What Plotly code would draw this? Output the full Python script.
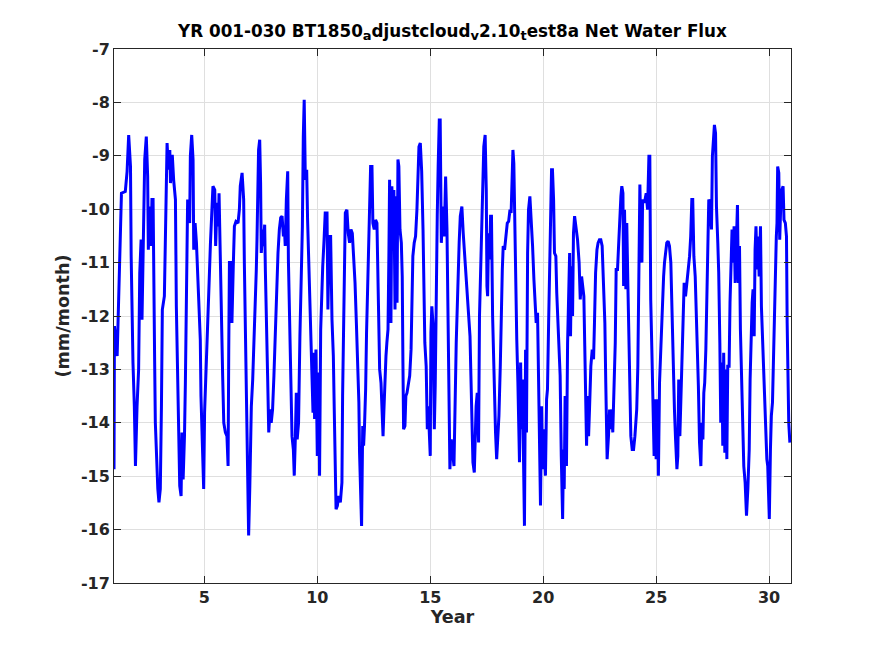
import plotly.graph_objects as go

# Net water flux (year, mm/month)
years = [
    1.00, 1.02, 1.14, 1.21, 1.25, 1.33, 1.50, 1.58, 1.65, 1.73, 1.76, 1.80, 1.84, 1.90, 1.95,
    2.02, 2.09, 2.14, 2.20, 2.24, 2.32, 2.36, 2.43, 2.49, 2.52, 2.58, 2.64, 2.68, 2.73, 2.76,
    2.80, 2.83, 2.88, 2.94, 2.99, 3.05, 3.10, 3.14, 3.23, 3.29, 3.35, 3.41, 3.47, 3.50, 3.58,
    3.64, 3.72, 3.76, 3.84, 3.88, 3.91, 3.97, 4.01, 4.06, 4.12, 4.16, 4.20, 4.23, 4.26, 4.35,
    4.38, 4.44, 4.50, 4.53, 4.59, 4.65, 4.71, 4.76, 4.82, 4.85, 4.91, 4.97, 5.01, 5.06, 5.12,
    5.16, 5.21, 5.27, 5.32, 5.38, 5.46, 5.50, 5.56, 5.62, 5.65, 5.71, 5.75, 5.81, 5.86, 5.93,
    6.00, 6.05, 6.08, 6.11, 6.19, 6.22, 6.28, 6.33, 6.40, 6.49, 6.55, 6.59, 6.67, 6.74, 6.77,
    6.81, 6.84, 6.89, 6.92, 6.96, 7.01, 7.05, 7.08, 7.14, 7.18, 7.23, 7.26, 7.30, 7.33, 7.36,
    7.40, 7.45, 7.49, 7.52, 7.58, 7.61, 7.67, 7.70, 7.76, 7.80, 7.85, 7.91, 7.96, 8.02, 8.08,
    8.14, 8.19, 8.23, 8.26, 8.32, 8.38, 8.44, 8.50, 8.54, 8.58, 8.63, 8.69, 8.72, 8.78, 8.82,
    8.88, 8.94, 8.98, 9.03, 9.07, 9.11, 9.17, 9.23, 9.29, 9.34, 9.38, 9.42, 9.47, 9.53, 9.57,
    9.62, 9.68, 9.72, 9.76, 9.81, 9.85, 9.88, 9.94, 10.00, 10.06, 10.10, 10.15, 10.19, 10.24, 10.30,
    10.35, 10.43, 10.47, 10.53, 10.59, 10.65, 10.71, 10.75, 10.80, 10.83, 10.89, 10.94, 11.02, 11.09, 11.12,
    11.17, 11.21, 11.24, 11.31, 11.37, 11.43, 11.49, 11.55, 11.61, 11.67, 11.73, 11.79, 11.84, 11.87, 11.92,
    11.96, 12.01, 12.05, 12.09, 12.14, 12.18, 12.23, 12.27, 12.32, 12.36, 12.42, 12.46, 12.52, 12.58, 12.64,
    12.68, 12.73, 12.76, 12.82, 12.86, 12.91, 12.95, 12.99, 13.04, 13.08, 13.13, 13.17, 13.20, 13.26, 13.30,
    13.35, 13.39, 13.44, 13.48, 13.53, 13.57, 13.61, 13.66, 13.72, 13.76, 13.79, 13.82, 13.88, 13.92, 13.97,
    14.03, 14.09, 14.15, 14.19, 14.23, 14.29, 14.35, 14.41, 14.45, 14.50, 14.56, 14.62, 14.68, 14.72, 14.76,
    14.82, 14.87, 14.91, 14.96, 15.00, 15.03, 15.07, 15.12, 15.18, 15.22, 15.27, 15.31, 15.35, 15.40, 15.44,
    15.49, 15.53, 15.57, 15.62, 15.68, 15.74, 15.78, 15.83, 15.87, 15.93, 15.99, 16.05, 16.15, 16.19, 16.24,
    16.28, 16.33, 16.40, 16.46, 16.52, 16.58, 16.64, 16.70, 16.76, 16.80, 16.84, 16.89, 16.95, 16.99, 17.03,
    17.08, 17.14, 17.18, 17.24, 17.29, 17.33, 17.37, 17.43, 17.48, 17.51, 17.54, 17.58, 17.63, 17.67, 17.71,
    17.76, 17.80, 17.85, 17.89, 17.94, 17.99, 18.04, 18.10, 18.14, 18.19, 18.23, 18.29, 18.35, 18.41, 18.47,
    18.53, 18.58, 18.61, 18.66, 18.70, 18.75, 18.79, 18.83, 18.88, 18.91, 18.95, 19.00, 19.04, 19.08, 19.13,
    19.17, 19.22, 19.26, 19.31, 19.35, 19.41, 19.47, 19.53, 19.59, 19.65, 19.69, 19.75, 19.79, 19.84, 19.88,
    19.93, 19.97, 20.01, 20.06, 20.10, 20.15, 20.19, 20.24, 20.28, 20.32, 20.37, 20.41, 20.46, 20.50, 20.56,
    20.60, 20.65, 20.71, 20.75, 20.80, 20.86, 20.90, 20.93, 20.97, 21.03, 21.08, 21.12, 21.17, 21.21, 21.25,
    21.30, 21.34, 21.39, 21.52, 21.59, 21.64, 21.70, 21.76, 21.80, 21.84, 21.87, 21.92, 21.96, 22.01, 22.05,
    22.11, 22.17, 22.23, 22.27, 22.32, 22.38, 22.43, 22.49, 22.55, 22.61, 22.67, 22.73, 22.77, 22.83, 22.89,
    22.94, 22.98, 23.04, 23.08, 23.13, 23.19, 23.23, 23.29, 23.35, 23.39, 23.44, 23.48, 23.53, 23.56, 23.60,
    23.66, 23.70, 23.75, 23.79, 23.84, 23.88, 23.94, 24.00, 24.06, 24.10, 24.14, 24.19, 24.23, 24.28, 24.32,
    24.37, 24.40, 24.46, 24.51, 24.56, 24.62, 24.68, 24.72, 24.76, 24.81, 24.85, 24.91, 24.96, 25.00, 25.06,
    25.10, 25.15, 25.19, 25.24, 25.28, 25.33, 25.37, 25.41, 25.47, 25.53, 25.59, 25.65, 25.71, 25.75, 25.81,
    25.86, 25.92, 25.96, 26.00, 26.05, 26.11, 26.15, 26.19, 26.24, 26.30, 26.36, 26.42, 26.48, 26.53, 26.58,
    26.62, 26.67, 26.73, 26.77, 26.81, 26.87, 26.92, 26.98, 27.02, 27.07, 27.11, 27.15, 27.20, 27.24, 27.29,
    27.33, 27.39, 27.45, 27.49, 27.54, 27.58, 27.63, 27.67, 27.73, 27.77, 27.82, 27.86, 27.91, 27.95, 27.99,
    28.04, 28.08, 28.13, 28.17, 28.23, 28.27, 28.32, 28.36, 28.41, 28.45, 28.50, 28.54, 28.60, 28.64, 28.69,
    28.73, 28.78, 28.84, 28.88, 28.94, 29.00, 29.06, 29.12, 29.16, 29.20, 29.25, 29.29, 29.34, 29.38, 29.42,
    29.47, 29.51, 29.56, 29.62, 29.66, 29.71, 29.76, 29.81, 29.85, 29.90, 29.94, 29.99, 30.01, 30.06, 30.10,
    30.15, 30.19, 30.24, 30.28, 30.32, 30.35, 30.38, 30.43, 30.47, 30.52, 30.56, 30.62, 30.66, 30.72, 30.77,
    30.80, 30.83, 30.87, 30.92,
]
flux = [
    -14.87, -12.19, -12.75, -11.63, -10.63, -9.70, -9.67, -9.29, -8.61, -9.20, -10.88, -12.13, -12.87, -13.69, -14.81,
    -13.69, -13.00, -11.19, -10.57, -12.07, -9.70, -9.07, -8.64, -9.39, -10.76, -9.95, -10.69, -9.82, -9.82, -11.75,
    -12.87, -14.00, -14.62, -15.24, -15.49, -15.24, -13.69, -11.88, -11.63, -10.26, -8.76, -9.26, -8.89, -9.51, -8.98,
    -9.45, -9.82, -11.82, -13.62, -14.18, -15.18, -15.37, -14.18, -15.06, -14.25, -13.25, -12.13, -10.57, -9.82, -10.26,
    -9.01, -8.61, -9.07, -10.76, -10.26, -10.63, -11.38, -11.75, -12.44, -13.50, -14.37, -15.24, -13.81, -13.25, -12.75,
    -12.25, -11.38, -10.63, -10.13, -9.57, -9.64, -10.69, -9.88, -10.32, -9.70, -11.07, -12.31, -13.12, -14.00, -14.18,
    -14.25, -14.81, -12.63, -11.00, -11.00, -12.13, -11.07, -10.32, -10.23, -10.26, -10.01, -9.57, -9.32, -9.82, -11.00,
    -12.13, -13.00, -14.06, -15.62, -16.11, -15.24, -14.25, -13.69, -13.19, -12.75, -12.25, -11.75, -11.13, -10.57, -9.76,
    -8.89, -8.70, -9.51, -10.82, -10.38, -10.69, -10.29, -11.13, -12.07, -13.12, -14.18, -13.75, -14.00, -13.75, -13.12,
    -12.31, -11.82, -11.38, -10.82, -10.38, -10.16, -10.13, -10.51, -10.32, -10.69, -9.82, -9.29, -10.94, -12.13, -13.44,
    -14.25, -14.50, -14.99, -14.25, -13.44, -14.31, -14.00, -12.38, -11.38, -10.32, -8.64, -7.95, -9.45, -9.26, -10.20,
    -11.00, -11.50, -12.25, -13.06, -13.81, -12.69, -13.93, -12.63, -14.62, -13.06, -14.99, -12.25, -11.63, -11.07, -10.57,
    -10.07, -10.07, -11.88, -10.51, -10.51, -12.07, -12.75, -13.75, -14.62, -15.62, -15.55, -15.37, -15.49, -15.12, -13.50,
    -12.00, -10.88, -10.07, -10.01, -10.45, -10.63, -10.38, -10.45, -10.82, -11.38, -12.13, -12.81, -13.62, -14.56, -15.62,
    -15.93, -14.06, -14.43, -14.06, -13.37, -12.31, -11.26, -10.51, -9.57, -9.20, -9.20, -10.26, -10.38, -10.20, -10.26,
    -11.38, -12.25, -13.00, -13.25, -13.75, -14.25, -13.75, -13.12, -12.75, -12.50, -12.25, -10.82, -9.45, -12.13, -9.57,
    -10.26, -9.64, -11.88, -9.76, -11.75, -9.07, -9.20, -10.38, -10.63, -11.26, -12.87, -14.12, -14.06, -13.50, -13.44,
    -13.25, -13.12, -12.63, -11.57, -10.88, -10.63, -10.51, -10.01, -9.32, -8.83, -8.76, -9.29, -10.38, -11.88, -12.50,
    -12.94, -14.12, -13.69, -14.43, -14.62, -12.31, -11.82, -12.13, -14.12, -13.31, -11.13, -10.13, -9.20, -8.33, -8.33,
    -10.63, -10.26, -9.95, -10.51, -9.39, -10.38, -11.63, -13.37, -14.87, -14.31, -14.62, -14.81, -12.50, -11.82, -11.19,
    -10.63, -10.13, -9.95, -10.45, -10.82, -11.19, -11.44, -11.88, -12.38, -13.12, -14.12, -14.74, -14.93, -14.12, -13.69,
    -13.44, -14.37, -12.00, -11.00, -10.32, -9.57, -8.83, -8.61, -9.64, -11.44, -11.63, -10.45, -10.94, -10.13, -10.13,
    -12.00, -12.87, -13.62, -14.18, -14.68, -14.25, -13.87, -12.94, -11.75, -11.13, -10.69, -10.76, -10.51, -10.26, -10.23,
    -10.01, -10.07, -9.39, -8.89, -9.14, -10.63, -11.69, -12.44, -13.25, -14.25, -14.74, -12.87, -14.12, -13.19, -14.99,
    -15.93, -12.63, -14.18, -10.82, -10.01, -9.76, -10.13, -10.69, -11.32, -11.75, -12.13, -11.94, -13.12, -15.24, -15.55,
    -13.69, -14.87, -14.12, -14.62, -14.99, -13.56, -13.37, -12.13, -11.26, -9.76, -9.26, -9.26, -9.82, -10.82, -10.88,
    -11.57, -12.00, -12.50, -13.12, -14.62, -15.80, -14.50, -15.24, -13.50, -14.81, -12.50, -11.63, -10.82, -12.38, -11.07,
    -12.00, -10.45, -10.13, -10.57, -11.00, -11.69, -11.26, -11.50, -11.63, -12.56, -13.44, -14.43, -13.50, -14.25, -13.75,
    -12.94, -12.63, -12.81, -12.13, -11.19, -10.76, -10.63, -10.57, -10.57, -10.69, -11.38, -12.13, -13.25, -14.68, -14.25,
    -13.75, -14.12, -13.75, -14.18, -13.37, -12.50, -11.13, -11.13, -10.57, -10.01, -9.76, -9.57, -9.70, -11.44, -10.01,
    -11.50, -10.26, -11.44, -12.50, -13.56, -14.25, -14.50, -14.50, -14.25, -13.93, -13.75, -12.94, -11.50, -9.54, -10.38,
    -11.00, -9.82, -9.88, -9.82, -9.70, -10.01, -9.01, -9.01, -11.69, -12.63, -13.50, -14.62, -13.56, -14.68, -13.56,
    -14.99, -13.25, -12.75, -12.38, -11.82, -11.26, -11.00, -10.82, -10.63, -10.60, -10.69, -11.00, -12.13, -13.19, -13.75,
    -14.31, -14.87, -14.62, -13.19, -14.25, -13.19, -12.63, -11.88, -11.38, -11.63, -11.38, -11.19, -10.88, -10.51, -9.82,
    -9.82, -10.88, -11.26, -11.82, -12.50, -13.31, -14.37, -14.81, -14.00, -14.31, -13.44, -13.25, -12.63, -11.63, -10.76,
    -9.82, -9.88, -10.38, -9.01, -8.70, -8.42, -8.58, -9.95, -10.63, -11.19, -12.50, -14.00, -12.87, -14.43, -12.69,
    -14.56, -13.00, -14.68, -12.94, -12.94, -11.75, -10.63, -10.38, -11.00, -10.32, -11.38, -10.57, -9.92, -11.38, -10.69,
    -12.25, -13.19, -14.12, -14.81, -15.12, -15.74, -15.24, -14.50, -13.19, -12.25, -11.75, -11.50, -12.38, -10.76, -10.32,
    -11.13, -10.51, -11.26, -10.32, -11.82, -12.44, -12.75, -13.62, -14.25, -14.68, -14.81, -15.37, -15.80, -14.50, -13.87,
    -13.62, -12.75, -11.75, -11.32, -10.51, -10.26, -9.20, -9.32, -10.57, -9.88, -9.64, -9.57, -10.20, -10.26, -10.51,
    -12.13, -13.56, -14.00, -14.37,
]

x_ticks = [5, 10, 15, 20, 25, 30]
y_ticks = [-17, -16, -15, -14, -13, -12, -11, -10, -9, -8, -7]
y_tick_labels = ['-17', '-16', '-15', '-14', '-13', '-12', '-11', '-10', '-9', '-8', '-7']

sub = '<sub><span style="font-size:13px">%s</span></sub>'
title_text = ('YR 001-030 BT1850' + sub % 'a' + 'djustcloud' + sub % 'v' + '2.10'
              + sub % 't' + 'est8a Net Water Flux')

fig = go.Figure()
fig.add_trace(go.Scatter(x=years, y=flux, mode='lines',
                         line=dict(color='rgb(0,0,255)', width=3)))

font_dict = dict(family='DejaVu Sans', color='rgb(38,38,38)', size=16, weight='bold')
label_font = dict(family='DejaVu Sans', size=17.6, color='rgb(38,38,38)', weight='bold')

# page body adds an 8px offset, so sizes/margins are trimmed by 8
fig.update_layout(
    width=867, height=648,
    font=font_dict,
    plot_bgcolor='white',
    paper_bgcolor='white',
    showlegend=False,
    margin=dict(l=106, r=84, t=41, b=73),
    title=dict(text=title_text, x=0.5, xref='paper', xanchor='center',
               y=0.965, yref='container', yanchor='middle',
               font=dict(family='DejaVu Sans', size=16.8, color='black', weight='bold')),
)

axis_style = dict(
    showline=True,
    linecolor='rgb(38,38,38)',
    linewidth=1,
    mirror='ticks',
    ticks='inside',
    ticklen=7,
    tickwidth=1,
    tickcolor='rgb(38,38,38)',
    showgrid=True,
    gridcolor='rgb(223,223,223)',
    gridwidth=1,
    zeroline=False,
    tickfont=font_dict,
)

fig.update_xaxes(range=[1, 30.97], tickvals=x_ticks,
                 title=dict(text='Year', standoff=4, font=label_font),
                 **axis_style)
fig.update_yaxes(range=[-17, -7], tickvals=y_ticks, ticktext=y_tick_labels,
                 title=dict(text='(mm/month)', standoff=6, font=label_font),
                 **axis_style)

fig.write_html('out.html')
